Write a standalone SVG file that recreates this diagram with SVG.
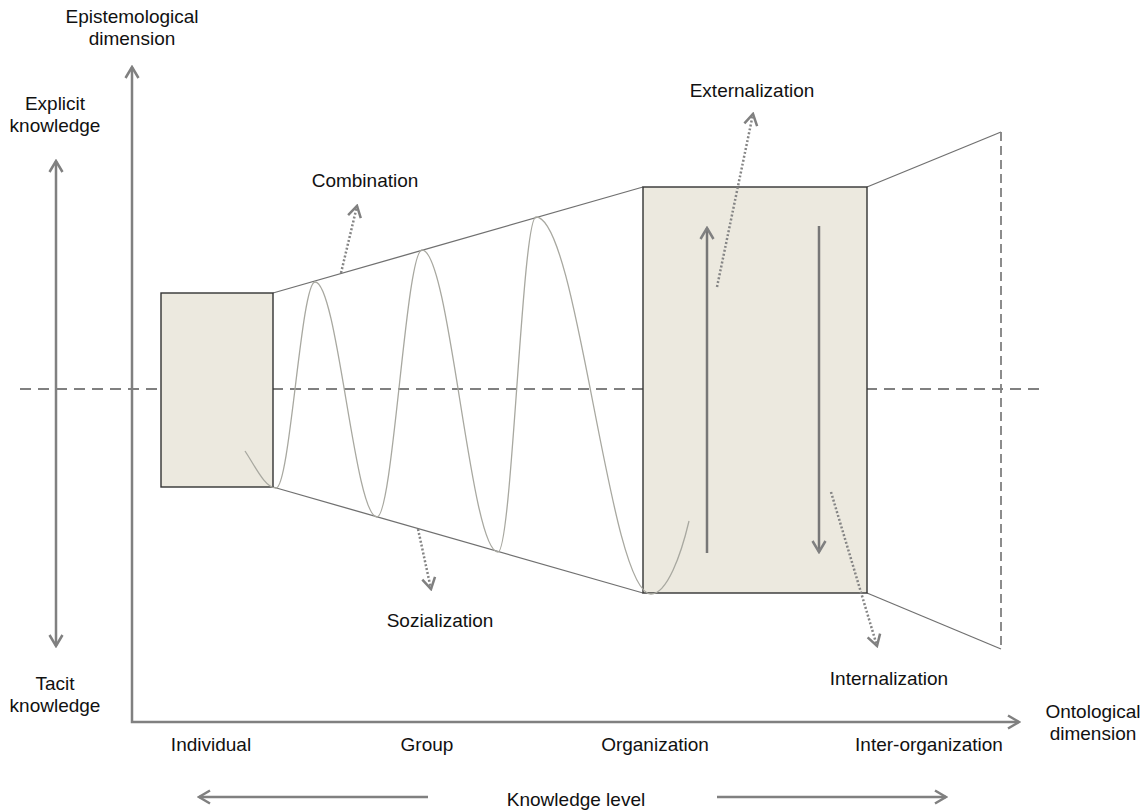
<svg xmlns="http://www.w3.org/2000/svg" width="1144" height="812" viewBox="0 0 1144 812">
  <style>
    text { font-family: "Liberation Sans", Arial, sans-serif; font-size: 19px; fill: #111; text-anchor: middle; }
    .axis { stroke: #808080; stroke-width: 2.5; fill: none; }
    .flow { stroke: #777; stroke-width: 2.5; fill: none; }
    .dots { stroke: #858585; stroke-width: 2.5; stroke-dasharray: 2 2; fill: none; }
    .cone { stroke: #707070; stroke-width: 1.3; fill: none; }
    .box { fill: #ece9df; stroke: #333; stroke-width: 1.4; }
    .spiral { stroke: #a8a8a0; stroke-width: 1.3; fill: none; }
    .midline { stroke: #808080; stroke-width: 2; stroke-dasharray: 11 7; fill: none; }
    .edge { stroke: #808080; stroke-width: 1.8; stroke-dasharray: 9 5; fill: none; }
  </style>
  <defs>
    <!-- open chevron head, usable at either end of a line -->
    <marker id="chev" markerUnits="userSpaceOnUse" viewBox="-14 -9 16 18" refX="0" refY="0" markerWidth="16" markerHeight="18" orient="auto-start-reverse">
      <path d="M -11 -6.5 L 0 0 L -11 6.5" fill="none" stroke="#808080" stroke-width="2.5"/>
    </marker>
  </defs>

  <!-- centre line between tacit and explicit -->
  <line class="midline" x1="20" y1="389" x2="1044" y2="389"/>

  <!-- outer boundary of the inter-organization level -->
  <g id="cone-outer">
    <line class="cone" x1="867" y1="187" x2="1001" y2="132"/>
    <line class="cone" x1="867" y1="593" x2="1001" y2="649"/>
    <line class="edge" x1="1001" y1="132" x2="1001" y2="649"/>
  </g>

  <!-- cone widening from individual to organization -->
  <g id="cone-inner">
    <line class="cone" x1="273" y1="293" x2="643" y2="187"/>
    <line class="cone" x1="273" y1="487" x2="643" y2="593"/>
  </g>

  <g id="node-individual">
    <rect class="box" x="161" y="293" width="112" height="194"/>
  </g>

  <g id="node-organization">
    <rect class="box" x="643" y="187" width="224" height="406"/>
  </g>

  <!-- knowledge spiral -->
  <g id="spiral">
    <path class="spiral" d="M 245 451 C 255 466, 265 488, 276 488 C 290 488, 301 282, 315 282 C 337.5 282, 354.5 517, 377 517 C 393 517, 406 250, 422 250 C 450 250, 470 552, 498 552 C 512 552, 522 217, 536 217 C 578 217, 609 594, 651 594 C 667 594, 681 555, 689 521"/>
  </g>

  <g id="connectors">
    <!-- axes -->
    <polyline class="axis" points="132,67 132,722 1019,722" marker-start="url(#chev)" marker-end="url(#chev)"/>
    <line class="axis" x1="56" y1="161" x2="56" y2="646" marker-start="url(#chev)" marker-end="url(#chev)"/>
    <line class="axis" x1="428" y1="797" x2="199" y2="797" marker-end="url(#chev)"/>
    <line class="axis" x1="717" y1="797" x2="946" y2="797" marker-end="url(#chev)"/>

    <!-- conversion arrows inside organization -->
    <line class="flow" x1="707" y1="553" x2="707" y2="228" marker-end="url(#chev)"/>
    <line class="flow" x1="819" y1="226" x2="819" y2="552" marker-end="url(#chev)"/>

    <!-- dotted pointers to mode labels -->
    <line class="dots" x1="341" y1="273" x2="357" y2="206" marker-end="url(#chev)"/>
    <line class="dots" x1="418" y1="529" x2="431" y2="589" marker-end="url(#chev)"/>
    <line class="dots" x1="717" y1="287" x2="753" y2="114" marker-end="url(#chev)"/>
    <line class="dots" x1="831" y1="492" x2="877" y2="646" marker-end="url(#chev)"/>
  </g>

  <g id="labels">
    <text x="132" y="23">Epistemological</text>
    <text x="132" y="45">dimension</text>
    <text x="55" y="110">Explicit</text>
    <text x="55" y="132">knowledge</text>
    <text x="55" y="690">Tacit</text>
    <text x="55" y="712">knowledge</text>
    <text x="1093" y="718">Ontological</text>
    <text x="1093" y="740">dimension</text>
    <text x="211" y="751">Individual</text>
    <text x="427" y="751">Group</text>
    <text x="655" y="751">Organization</text>
    <text x="929" y="751">Inter-organization</text>
    <text x="576" y="806">Knowledge level</text>
    <text x="365" y="187">Combination</text>
    <text x="440" y="627">Sozialization</text>
    <text x="752" y="97">Externalization</text>
    <text x="889" y="685">Internalization</text>
  </g>
</svg>
